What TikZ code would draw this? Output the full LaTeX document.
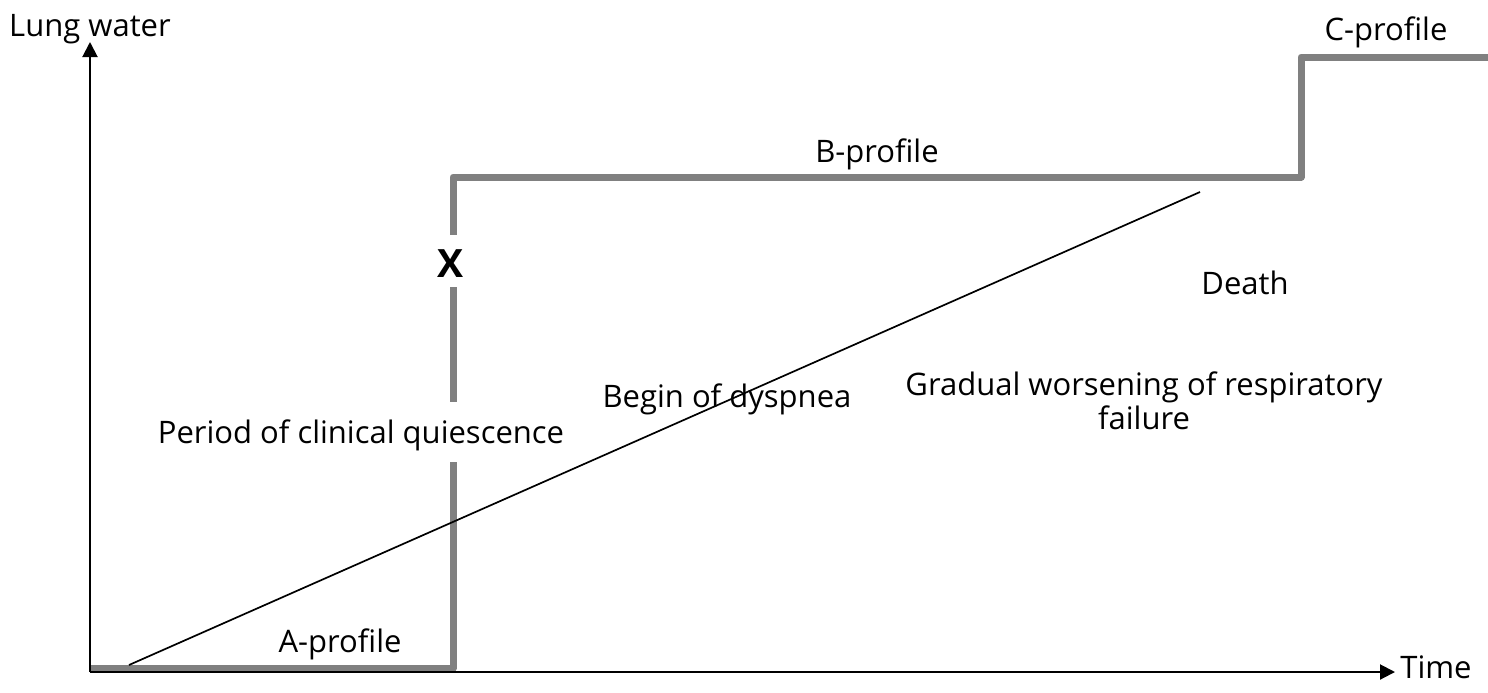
\documentclass[tikz,border=0pt]{standalone}
\usepackage{fontspec}
\setmainfont{Open Sans}
\usetikzlibrary{arrows.meta}
\tikzset{
  lbl/.style={inner sep=0pt, anchor=base, font=\fontsize{15.5}{18}\selectfont},
  axis/.style={line width=1pt, -{Triangle[length=7.5pt,width=7.5pt]}},
  profile/.style={line width=3.5pt, color=gray, line join=round},
  trend/.style={line width=0.85pt, black},
  gapnode/.style={lbl, fill=white}
}
\begin{document}
\begin{tikzpicture}[x=0.5pt,y=-0.5pt]
\useasboundingbox (0,0) rectangle (1488,692);
% coordinates
\coordinate (o) at (90,672);
\coordinate (ytop) at (90,42);
\coordinate (xend) at (1395,672);
\coordinate (p0) at (91,668);
\coordinate (p1) at (453,668);
\coordinate (p2) at (453,177);
\coordinate (p3) at (1301,177);
\coordinate (p4) at (1301,57);
\coordinate (p5) at (1492,57);
\coordinate (t0) at (129,665);
\coordinate (t1) at (1200,192);
% profile line
\draw[profile] (p0) -- (p1) -- (p2) -- (p3) -- (p4) -- (p5);
% axes
\draw[axis] (o) -- (ytop);
\draw[axis] (o) -- (xend);
% trend line
\draw[trend] (t0) -- (t1);
% labels
\node[lbl] (lung) at (90,36) {Lung water};
\node[lbl, anchor=base west] (time) at (1400,678) {Time};
\node[lbl] (cprof) at (1386,40) {C-profile};
\node[lbl] (bprof) at (877,162) {B-profile};
\node[lbl] (aprof) at (340,652) {A-profile};
\node[gapnode, text height=21pt, text depth=5pt, font=\fontsize{19.5}{22}\selectfont\bfseries] (x) at (451,277) {X};
\node[gapnode, text height=20.5pt, text depth=9.5pt] (quies) at (361,443) {Period of clinical quiescence};
\node[lbl] (dysp) at (727,407) {Begin of dyspnea};
\node[lbl, align=center] (grad) at (1144,429) {Gradual worsening of respiratory\\[-1pt] failure};
\node[lbl] (death) at (1245,294) {Death};
\end{tikzpicture}
\end{document}
